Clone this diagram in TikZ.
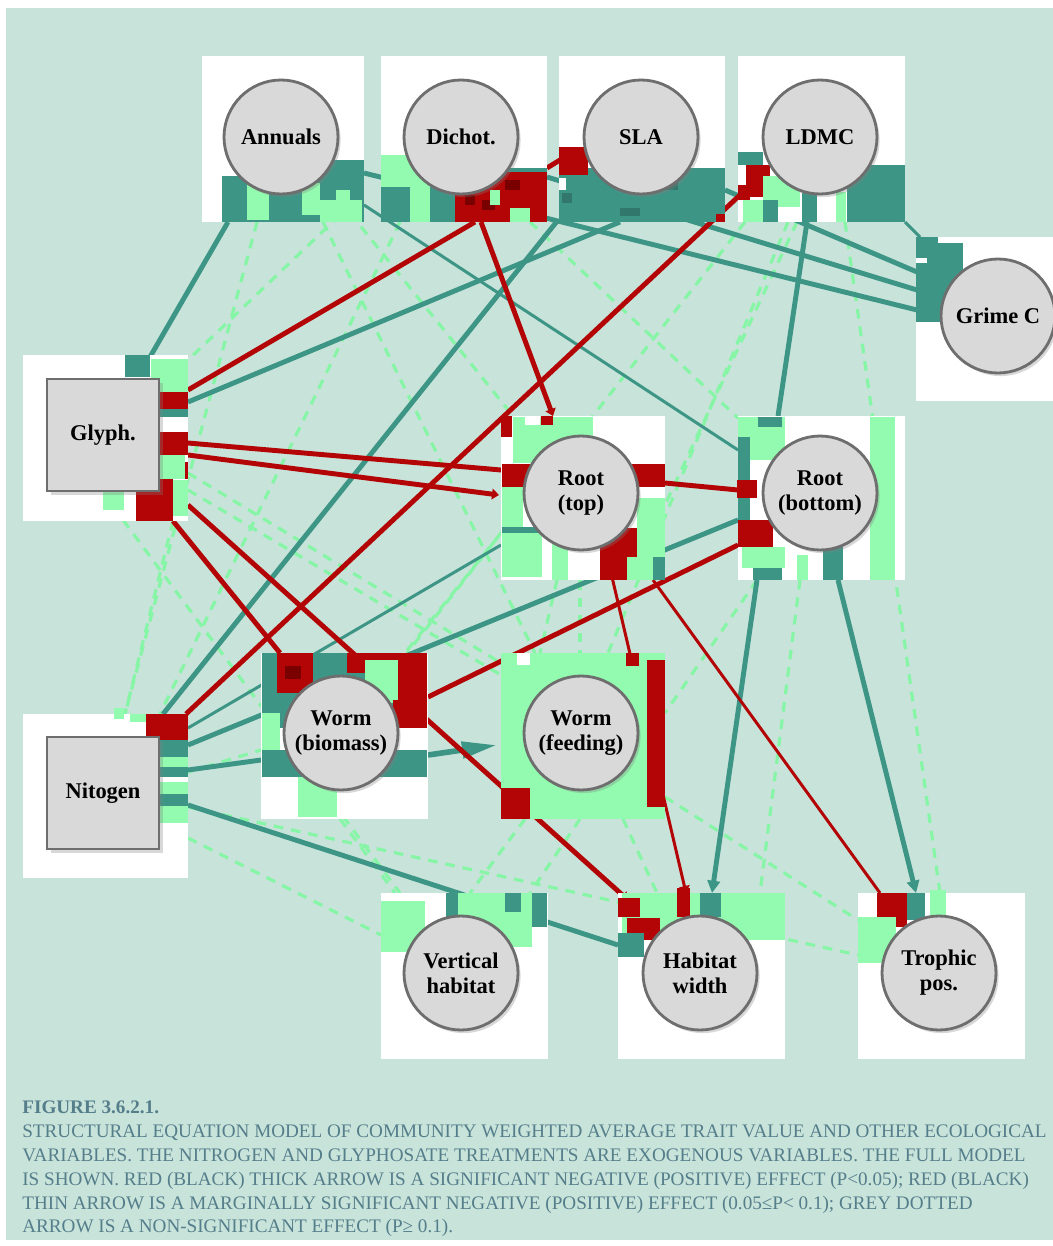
\documentclass[tikz,border=0pt]{standalone}
\usepackage{fontspec}
\setmainfont{Liberation Serif}
\usetikzlibrary{arrows.meta,shadows}
\definecolor{mint}{HTML}{C8E3DA}
\definecolor{tl}{HTML}{3D9586}
\definecolor{lg}{HTML}{93FBAF}
\definecolor{dg}{HTML}{86F5A6}
\definecolor{rd}{HTML}{B30505}
\definecolor{drd}{HTML}{7A0000}
\definecolor{ngray}{HTML}{D9D9D9}
\definecolor{bgray}{HTML}{6E6E6E}
\definecolor{captc}{HTML}{557E8B}
\begin{document}
\begin{tikzpicture}[x=0.02cm,y=-0.02cm,
  tline/.style={draw=tl,line width=2.8pt},
  tthin/.style={draw=tl,line width=1.7pt},
  rline/.style={draw=rd,line width=2.8pt},
  rthin/.style={draw=rd,line width=1.7pt},
  gdash/.style={draw=dg,line width=1.8pt,dash pattern=on 5.5pt off 4.5pt},
  tarrow/.style={-{Triangle[length=7pt,width=7pt]}},
  rarrow/.style={-{Triangle[length=4pt,width=6pt]}},
  bigarrow/.style={-{Triangle[length=20pt,width=9pt]}},
  cnode/.style={circle,fill=ngray,draw=bgray,line width=1.6pt,minimum size=2.28cm,inner sep=0pt,align=center,
    font=\fontsize{12.8pt}{14.2pt}\selectfont\bfseries,
    drop shadow={shadow xshift=1.5pt,shadow yshift=-1.8pt,opacity=0.3}},
  snode/.style={rectangle,fill=ngray,draw=bgray,line width=1.6pt,minimum size=2.24cm,inner sep=0pt,align=center,
    font=\fontsize{12.8pt}{14.2pt}\selectfont\bfseries,
    drop shadow={shadow xshift=2pt,shadow yshift=-2.5pt,opacity=0.3}},
  capt/.style={anchor=base west,inner sep=0pt,text=captc,font=\fontsize{10.9pt}{13.6pt}\selectfont}
]
\useasboundingbox (0,0) rectangle (1053,1246);
\fill[white] (0,0) rectangle (1053,1246);
\fill[mint] (6,8) rectangle (1053,1240);

% ---------- connector end points ----------
\path
 (228,222) coordinate (t1a) (150,357) coordinate (t1b)
 (188,402) coordinate (t2a) (620,222) coordinate (t2b)
 (163,714) coordinate (t3a) (558,220) coordinate (t3b)
 (364,205) coordinate (t4a) (738,450) coordinate (t4b)
 (364,173) coordinate (t5a) (917,310) coordinate (t5b)
 (547,177) coordinate (t6a) (917,290) coordinate (t6b)
 (725,190) coordinate (t7a) (917,272) coordinate (t7b)
 (905,222) coordinate (t8a) (920,237) coordinate (t8b)
 (807,222) coordinate (t9a) (778,416) coordinate (t9b)
 (757,580) coordinate (t10a) (712,893) coordinate (t10b)
 (838,580) coordinate (t11a) (916,893) coordinate (t11b)
 (188,745) coordinate (t12a) (738,520) coordinate (t12b)
 (428,755) coordinate (t13a) (497,745) coordinate (t13b)
 (188,770) coordinate (t14a) (261,760) coordinate (t14b)
 (188,728) coordinate (t15a) (501,545) coordinate (t15b)
 (188,805) coordinate (t16a) (618,945) coordinate (t16b);
\path
 (475,222) coordinate (r1a) (188,390) coordinate (r1b)
 (481,222) coordinate (r2a) (553,416) coordinate (r2b)
 (740,195) coordinate (r3a) (186,714) coordinate (r3b)
 (188,443) coordinate (r4a) (501,470) coordinate (r4b)
 (188,455) coordinate (r5a) (499,495) coordinate (r5b)
 (665,483) coordinate (r6a) (738,490) coordinate (r6b)
 (188,505) coordinate (r7a) (628,900) coordinate (r7b)
 (173,521) coordinate (r8a) (280,653) coordinate (r8b)
 (428,697) coordinate (r9a) (738,545) coordinate (r9b)
 (612,577) coordinate (r10a) (686,893) coordinate (r10b)
 (653,580) coordinate (r11a) (880,893) coordinate (r11b)
 (547,168) coordinate (r12a) (560,160) coordinate (r12b);
\path
 (257,222) coordinate (d1a) (125,714) coordinate (d1b)
 (340,215) coordinate (d2a) (188,360) coordinate (d2b)
 (323,222) coordinate (d3a) (535,653) coordinate (d3b)
 (400,222) coordinate (d4a) (160,714) coordinate (d4b)
 (350,213) coordinate (d5a) (513,416) coordinate (d5b)
 (530,222) coordinate (d6a) (738,418) coordinate (d6b)
 (745,222) coordinate (d7a) (407,653) coordinate (d7b)
 (788,222) coordinate (d8a) (608,653) coordinate (d8b)
 (797,222) coordinate (d9a) (665,505) coordinate (d9b)
 (845,222) coordinate (d10a) (940,893) coordinate (d10b)
 (188,473) coordinate (d11a) (501,663) coordinate (d11b)
 (188,490) coordinate (d12a) (501,675) coordinate (d12b)
 (123,520) coordinate (d13a) (400,893) coordinate (d13b)
 (173,521) coordinate (d14a) (125,714) coordinate (d14b)
 (188,772) coordinate (d15a) (261,750) coordinate (d15b)
 (188,807) coordinate (d16a) (858,955) coordinate (d16b)
 (188,838) coordinate (d17a) (381,935) coordinate (d17b)
 (340,819) coordinate (d18a) (395,893) coordinate (d18b)
 (525,819) coordinate (d19a) (470,893) coordinate (d19b)
 (580,819) coordinate (d20a) (530,893) coordinate (d20b)
 (665,797) coordinate (d21a) (858,920) coordinate (d21b)
 (757,580) coordinate (d23a) (665,713) coordinate (d23b)
 (800,580) coordinate (d24a) (760,893) coordinate (d24b)
 (580,580) coordinate (d25a) (580,653) coordinate (d25b)
 (557,580) coordinate (d26a) (540,653) coordinate (d26b)
 (623,819) coordinate (d27a) (657,893) coordinate (d27b)
 (501,533) coordinate (d29a) (405,653) coordinate (d29b);

% ---------- dashed (non-significant) ----------
\foreach \n in {1,2,3,4,5,6,7,8,9,10,11,12,13,14,15,16,17,18,19,20,21,23,24,25,26,27,29}
  \draw[gdash] (d\n a) -- (d\n b);

% ---------- solid connectors ----------
\foreach \n in {1,2,3,5,6,7,9,12,14,16} \draw[tline] (t\n a) -- (t\n b);
\foreach \n in {4,8,15} \draw[tthin] (t\n a) -- (t\n b);
\draw[tline,tarrow] (t10a) -- (t10b);
\draw[tline,tarrow] (t11a) -- (t11b);
\draw[tline,bigarrow,line width=3.2pt] (t13a) -- (t13b);
\foreach \n in {1,3,4,6,8,9,12} \draw[rline] (r\n a) -- (r\n b);
\draw[rline,rarrow] (r2a) -- (r2b);
\draw[rline,rarrow] (r5a) -- (r5b);
\draw[rline,rarrow] (r7a) -- (r7b);
\draw[rthin,rarrow] (r10a) -- (r10b);
\draw[rthin] (r11a) -- (r11b);

% ---------- white boxes ----------
\fill[white] (202,56) rectangle (364,222);
\fill[white] (381,56) rectangle (547,222);
\fill[white] (559,56) rectangle (725,222);
\fill[white] (738,56) rectangle (905,222);
\fill[white] (916,237) rectangle (1053,401);
\fill[white] (23,355) rectangle (188,521);
\fill[white] (23,714) rectangle (188,878);
\fill[white] (501,416) rectangle (665,580);
\fill[white] (738,416) rectangle (905,580);
\fill[white] (261,653) rectangle (428,819);
\fill[white] (501,653) rectangle (665,819);
\fill[white] (381,893) rectangle (548,1059);
\fill[white] (618,893) rectangle (785,1059);
\fill[white] (858,893) rectangle (1025,1059);

% ---------- coloured blocks ----------
% Annuals
\fill[tl] (222,176) rectangle (364,222);
\fill[tl] (300,160) rectangle (364,176);
\fill[lg] (247,183) rectangle (269,220);
\fill[lg] (302,183) rectangle (320,215);
\fill[lg] (320,200) rectangle (362,222);
\fill[lg] (336,190) rectangle (350,200);
% Dichot.
\fill[lg] (381,155) rectangle (430,205);
\fill[tl] (381,187) rectangle (455,222);
\fill[lg] (410,185) rectangle (430,222);
\fill[tl] (455,168) rectangle (547,172);
\fill[rd] (455,172) rectangle (547,222);
\fill[drd] (465,195) rectangle (475,205);
\fill[drd] (482,200) rectangle (495,210);
\fill[drd] (505,180) rectangle (520,190);
\fill[lg] (490,190) rectangle (500,205);
\fill[lg] (510,208) rectangle (530,222);
% SLA
\fill[tl] (559,168) rectangle (725,222);
\fill[rd] (559,147) rectangle (588,175);
\fill[white] (559,178) rectangle (566,190);
\fill[tl!80!black] (562,193) rectangle (572,203);
\fill[tl!80!black] (665,180) rectangle (678,190);
\fill[tl!80!black] (620,208) rectangle (640,216);
\fill[rd] (716,214) rectangle (725,222);
% LDMC
\fill[tl] (738,152) rectangle (763,165);
\fill[tl] (847,165) rectangle (905,222);
\fill[rd] (746,165) rectangle (770,197);
\fill[rd] (738,185) rectangle (750,200);
\fill[lg] (763,176) rectangle (800,207);
\fill[lg] (743,200) rectangle (767,222);
\fill[tl] (763,200) rectangle (778,222);
\fill[tl] (802,193) rectangle (817,222);
\fill[lg] (836,192) rectangle (846,222);
% Grime C
\fill[tl] (916,237) rectangle (938,243);
\fill[tl] (916,243) rectangle (963,322);
\fill[white] (916,258) rectangle (927,263);
% Glyph.
\fill[tl] (125,355) rectangle (150,377);
\fill[lg] (151,359) rectangle (188,392);
\fill[rd] (160,392) rectangle (188,409);
\fill[tl] (160,409) rectangle (188,417);
\fill[rd] (160,432) rectangle (188,455);
\fill[lg] (160,455) rectangle (185,479);
\fill[rd] (185,462) rectangle (188,479);
\fill[rd] (136,479) rectangle (173,521);
\fill[lg] (173,480) rectangle (188,516);
\fill[lg] (103,488) rectangle (124,510);
% Nitogen
\fill[rd] (146,714) rectangle (188,740);
\fill[lg] (130,714) rectangle (146,722);
\fill[lg] (114,708) rectangle (124,719);
\fill[tl] (160,740) rectangle (188,757);
\fill[lg] (160,757) rectangle (188,767);
\fill[tl] (160,767) rectangle (188,777);
\fill[lg] (160,782) rectangle (188,794);
\fill[tl] (160,794) rectangle (188,806);
\fill[lg] (160,806) rectangle (188,823);
% Root (top)
\fill[lg] (513,417) rectangle (593,463);
\fill[white] (525,417) rectangle (540,425);
\fill[rd] (501,416) rectangle (512,437);
\fill[rd] (541,416) rectangle (553,425);
\fill[rd] (502,464) rectangle (665,487);
\fill[lg] (502,487) rectangle (523,527);
\fill[tl] (502,527) rectangle (600,533);
\fill[lg] (502,533) rectangle (542,577);
\fill[lg] (552,533) rectangle (568,580);
\fill[lg] (637,498) rectangle (665,557);
\fill[rd] (600,528) rectangle (637,580);
\fill[lg] (627,557) rectangle (657,580);
\fill[tl] (653,557) rectangle (665,580);
% Root (bottom)
\fill[lg] (738,417) rectangle (785,460);
\fill[tl] (758,417) rectangle (782,427);
\fill[tl] (738,437) rectangle (750,520);
\fill[rd] (737,480) rectangle (757,498);
\fill[rd] (738,520) rectangle (773,547);
\fill[lg] (742,547) rectangle (785,568);
\fill[tl] (753,568) rectangle (782,580);
\fill[tl] (823,547) rectangle (843,580);
\fill[lg] (797,555) rectangle (808,580);
\fill[lg] (870,417) rectangle (895,580);
% Worm (biomass)
\fill[tl] (262,653) rectangle (427,728);
\fill[rd] (277,653) rectangle (313,693);
\fill[drd] (285,666) rectangle (301,679);
\fill[rd] (347,653) rectangle (398,673);
\fill[lg] (365,660) rectangle (417,703);
\fill[rd] (398,653) rectangle (427,728);
\fill[rd] (393,700) rectangle (427,728);
\fill[lg] (262,713) rectangle (280,767);
\fill[tl] (262,750) rectangle (427,777);
\fill[lg] (298,777) rectangle (337,817);
% Worm (feeding)
\fill[lg] (501,653) rectangle (665,819);
\fill[white] (517,653) rectangle (530,665);
\fill[rd] (501,788) rectangle (530,819);
\fill[rd] (647,660) rectangle (665,807);
\fill[rd] (626,653) rectangle (639,666);
% Vertical habitat
\fill[lg] (381,901) rectangle (425,952);
\fill[tl] (446,893) rectangle (547,927);
\fill[lg] (458,893) rectangle (532,947);
\fill[tl] (505,893) rectangle (521,912);
% Habitat width
\fill[lg] (622,893) rectangle (785,940);
\fill[rd] (618,898) rectangle (640,917);
\fill[rd] (627,918) rectangle (660,940);
\fill[tl] (618,933) rectangle (644,957);
\fill[tl] (700,893) rectangle (721,917);
\fill[rd] (677,888) rectangle (690,917);
% Trophic pos.
\fill[rd] (877,893) rectangle (907,927);
\fill[tl] (907,893) rectangle (925,920);
\fill[lg] (858,917) rectangle (896,963);
\fill[lg] (930,890) rectangle (946,917);

% ---------- nodes ----------
\node[cnode] (ann) at (281,137) {Annuals};
\node[cnode] (dic) at (461,137) {Dichot.};
\node[cnode] (sla) at (641,137) {SLA};
\node[cnode] (ldmc) at (820,137) {LDMC};
\node[cnode] (grime) at (998,316) {Grime C};
\node[snode] (glyph) at (103,435) {Glyph.};
\node[snode] (nit) at (103,793) {Nitogen};
\node[cnode] (rtop) at (581,493) {Root\\(top)};
\node[cnode] (rbot) at (820,493) {Root\\(bottom)};
\node[cnode] (wbio) at (341,733) {Worm\\(biomass)};
\node[cnode] (wfeed) at (581,733) {Worm\\(feeding)};
\node[cnode] (vert) at (461,973) {Vertical\\habitat};
\node[cnode] (hab) at (700,973) {Habitat\\width};
\node[cnode] (troph) at (939,973) {Trophic\\pos.};

% ---------- caption ----------
\node[capt] (cap0) at (22,1113) {\bfseries FIGURE 3.6.2.1.};
\node[capt] (cap1) at (22,1137) {STRUCTURAL EQUATION MODEL OF COMMUNITY WEIGHTED AVERAGE TRAIT VALUE AND OTHER ECOLOGICAL};
\node[capt] (cap2) at (22,1161) {VARIABLES. THE NITROGEN AND GLYPHOSATE TREATMENTS ARE EXOGENOUS VARIABLES. THE FULL MODEL};
\node[capt] (cap3) at (22,1185) {IS SHOWN. RED (BLACK) THICK ARROW IS A SIGNIFICANT NEGATIVE (POSITIVE) EFFECT (P<0.05); RED (BLACK)};
\node[capt] (cap4) at (22,1209) {THIN ARROW IS A MARGINALLY SIGNIFICANT NEGATIVE (POSITIVE) EFFECT (0.05≤P< 0.1); GREY DOTTED};
\node[capt] (cap5) at (22,1232) {ARROW IS A NON-SIGNIFICANT EFFECT (P≥ 0.1).};
\end{tikzpicture}
\end{document}
